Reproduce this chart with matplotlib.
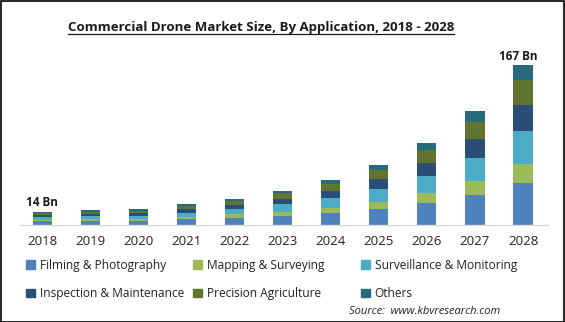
import matplotlib
matplotlib.use("Agg")
import matplotlib.pyplot as plt
from matplotlib.patches import Rectangle, Patch
from matplotlib.lines import Line2D
import numpy as np

plt.rcParams['font.family'] = ['Open Sans', 'DejaVu Sans']

years = ["2018", "2019", "2020", "2021", "2022", "2023", "2024", "2025", "2026", "2027", "2028"]
series_names = ["Filming & Photography", "Mapping & Surveying", "Surveillance & Monitoring",
                "Inspection & Maintenance", "Precision Agriculture", "Others"]
filming      = [3.9, 4.3, 4.6, 6.3, 7.7, 9.4, 12.5, 16.7, 23.3, 31.3, 43.8]
mapping      = [1.5, 1.7, 1.8, 2.4, 3.5, 4.5, 5.6, 7.7, 10.4, 14.6, 19.8]
surveillance = [2.7, 3.0, 3.2, 4.2, 5.6, 8.0, 10.1, 13.2, 17.4, 24.4, 34.4]
inspection   = [2.4, 2.7, 2.9, 3.8, 4.2, 5.2, 7.3, 10.4, 13.9, 19.5, 27.1]
agriculture  = [2.0, 2.3, 2.5, 3.1, 4.5, 5.9, 7.3, 9.4, 13.2, 18.1, 26.1]
others       = [1.5, 1.7, 1.7, 2.1, 1.7, 2.4, 4.2, 5.2, 7.0, 11.1, 15.7]
colors = ["#4F81BD", "#9BBB59", "#4BACC6", "#2C4D75", "#5F7530", "#276A7C"]
end_labels = {0: "14 Bn", 10: "167 Bn"}

W, H = 565, 322
fig = plt.figure(figsize=(W / 100, H / 100), dpi=100)
ax = fig.add_axes([20 / W, 97 / H, 528 / W, 167.6 / H])

data = [filming, mapping, surveillance, inspection, agriculture, others]
x = np.arange(len(years))
bottom = np.zeros(len(years))
for vals, name, c in zip(data, series_names, colors):
    ax.bar(x, vals, bottom=bottom, width=0.4, color=c, label=name, zorder=2)
    bottom += np.array(vals)

for i, lab in end_labels.items():
    dx = -0.1 if i == len(years) - 1 else 0
    ax.text(x[i] + dx, bottom[i] + 2.5, lab, ha="center", va="bottom", fontsize=8.5,
            fontweight="bold", color="#1a1a1a")

ax.set_xlim(-0.46, 10.52)
ax.set_ylim(0, 175)
ax.set_xticks(x)
ax.set_xticklabels(years, fontsize=9.5, color="#222222")
ax.tick_params(axis="x", length=0, pad=7)
ax.set_yticks([])
for s in ["top", "right", "left"]:
    ax.spines[s].set_visible(False)
ax.spines["bottom"].set_color("#D9D9D9")
ax.spines["bottom"].set_linewidth(1.0)

# Title with underline
title = fig.text(261 / W, 1 - 27 / H, "Commercial Drone Market Size, By Application, 2018 - 2028",
                 ha="center", va="center", fontsize=9.5, fontweight="bold", color="#1a1a1a")
fig.canvas.draw()
bb = title.get_window_extent(renderer=fig.canvas.get_renderer())
uy = (bb.y0 - 0.5) / H
fig.add_artist(Line2D([bb.x0 / W, bb.x1 / W], [uy, uy], color="#1a1a1a", lw=0.9))

# Legend: three columns, each with two entries
cols_x = [26, 193, 361]
col_entries = [(0, 3), (1, 4), (2, 5)]
for cx, (a, b) in zip(cols_x, col_entries):
    handles = [Patch(color=colors[a]), Patch(color=colors[b])]
    fig.legend(handles, [series_names[a], series_names[b]], loc="upper left",
               bbox_to_anchor=(cx / W, 1 - 259 / H), frameon=False, fontsize=8.6,
               handlelength=0.75, handleheight=0.75, handletextpad=0.4,
               labelspacing=1.27, borderpad=0, borderaxespad=0, labelcolor="#222222")

fig.text(500 / W, 1 - 311 / H, "Source:  www.kbvresearch.com", ha="right", va="center",
         fontsize=8, style="italic", color="#222222")

fig.add_artist(Rectangle((0.5 / W, 0.5 / H), 1 - 1.5 / W, 1 - 1.5 / H, transform=fig.transFigure,
                         fill=False, edgecolor="black", lw=1.2))

fig.savefig("out.png", dpi=100)
